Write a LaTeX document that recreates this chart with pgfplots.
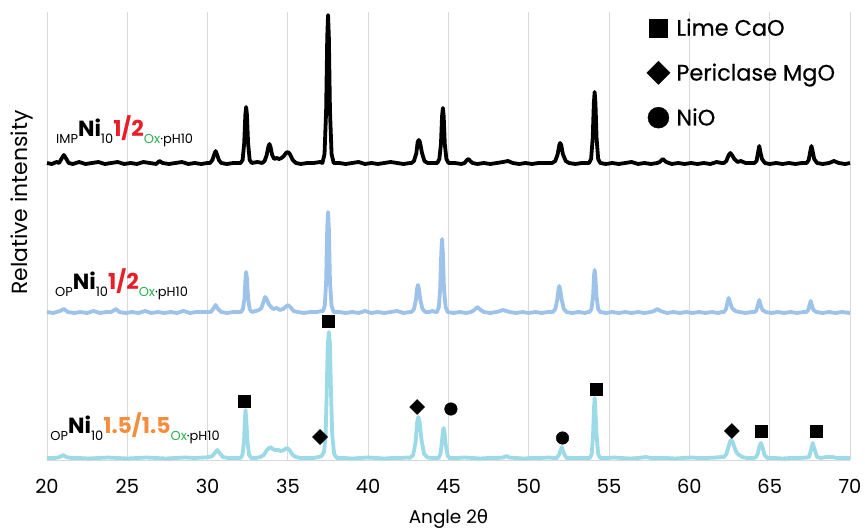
\documentclass[border=0pt]{standalone}
\usepackage{fontspec}
\setmainfont{Poppins}
\newfontfamily\greek{DejaVu Sans}
\newfontfamily\legfont[FakeBold=0.5]{Poppins}
\usepackage{pgfplots}
\pgfplotsset{compat=1.18}
\definecolor{midblue}{RGB}{157,195,234}
\definecolor{cyanb}{RGB}{155,218,230}
\definecolor{labred}{RGB}{232,30,40}
\definecolor{laborange}{RGB}{246,140,60}
\definecolor{labgreen}{RGB}{40,178,75}
\definecolor{gridc}{RGB}{217,217,217}
\newcommand{\slab}[1]{{\fontsize{13}{13}\selectfont #1}}
\newcommand{\blab}[2]{\raisebox{#1}{\fontsize{22}{22}\selectfont\bfseries #2}}
\begin{document}
\begin{tikzpicture}
\begin{axis}[
  scale only axis, width=803bp, height=448bp,
  xmin=20, xmax=70, ymin=0, ymax=448,
  axis line style={draw=none},
  major tick length=0pt,
  xtick={20,25,...,70}, ytick=\empty,
  xmajorgrids, grid style={gridc, line width=0.9bp},
  /pgf/number format/assume math mode=true,
  xticklabel style={font=\fontsize{19.5}{19.5}\selectfont, anchor=base, yshift=-33bp},
  xlabel={Angle 2{\greek θ}},
  xlabel style={font=\fontsize{18.5}{18.5}\selectfont, at={(axis description cs:0.5,0)}, anchor=base, yshift=-63bp},
  clip=false,
  legend style={draw=none, fill=none, at={(rel axis cs:0.745,0.99)}, anchor=north west, font=\legfont\fontsize{22.5}{22.5}\selectfont, row sep=22bp, inner sep=0pt},
  legend cell align=left,
  legend image code/.code={\path[draw=none, fill=none] (-13bp,-1bp) rectangle (16bp,1bp); \draw[#1] plot coordinates {(0bp,0bp)};},
]
\draw[gridc, line width=0.9bp] (rel axis cs:0,0) -- (rel axis cs:1,0);

% black trace (IMP)
\addplot[black, line width=3.8bp, line join=round, forget plot] coordinates {
(20.0,297)(20.3,296)(20.6,298)(20.75,297)(20.93,302)(21.05,305)(21.17,302)(21.35,297)
(21.6,296)(22.0,298)(22.4,296)(22.8,297)(23.2,298)(23.6,296)(24.0,297)(24.4,298)(24.8,296)
(25.2,297)(25.6,296)(26.0,298)(26.4,297)(26.8,296)(27.0,299)(27.2,297)(27.6,296)(28.0,297)
(28.4,298)(28.8,296)(29.2,297)(29.6,296)(30.0,297)
(30.15,297)(30.3,300)(30.4,305)(30.5,309)(30.6,305)(30.7,300)(30.85,297)
(31.2,296)(31.6,297)(32.0,297)
(32.05,297)(32.18,300)(32.28,317)(32.35,345)(32.4,353)(32.45,345)(32.52,317)(32.62,300)(32.75,297)
(33.1,298)(33.4,297)(33.55,299)(33.68,305)(33.78,313)(33.85,316)(33.92,313)(34.02,305)(34.15,301)
(34.3,302)(34.45,301)(34.6,302)
(34.75,304)(34.88,307)(35.0,308)(35.12,306)(35.3,300)(35.5,297)
(35.8,296)(36.2,297)(36.6,297)(37.0,298)
(37.15,297)(37.28,306)(37.38,349)(37.45,423)(37.5,445)(37.55,423)(37.62,349)(37.72,306)(37.85,297)
(38.2,297)(38.6,296)(39.0,297)(39.4,298)(39.8,296)(40.2,297)(40.6,296)(41.0,297)(41.4,298)
(41.8,297)(42.2,296)(42.6,297)
(42.7,297)(42.85,299)(43.0,307)(43.08,318)(43.15,320)(43.22,318)(43.35,307)(43.5,299)(43.7,297)
(44.0,297)(44.2,297)
(44.3,297)(44.43,301)(44.53,316)(44.6,344)(44.65,352)(44.7,344)(44.77,316)(44.87,301)(45.0,297)
(45.4,297)(45.8,296)(46.0,297)(46.15,300)(46.25,301)(46.35,299)(46.5,297)
(46.8,296)(47.2,297)(47.6,296)(48.0,297)(48.4,298)(48.7,299)(49.0,297)(49.4,296)(49.8,297)
(50.2,296)(50.6,297)(51.0,297)(51.3,297)
(51.45,297)(51.65,299)(51.8,306)(51.9,315)(51.95,317)(52.02,315)(52.12,306)(52.3,299)(52.5,297)
(52.9,296)(53.3,297)(53.6,297)
(53.75,297)(53.88,301)(53.98,322)(54.05,357)(54.1,368)(54.15,357)(54.22,322)(54.32,301)(54.45,297)
(54.8,296)(55.2,297)(55.6,296)(56.0,297)(56.4,298)(56.8,296)(57.2,297)(57.6,296)(58.0,297)
(58.15,298)(58.35,301)(58.55,298)
(58.9,296)(59.3,297)(59.7,296)(60.1,297)(60.5,296)(60.9,297)(61.3,296)(61.7,298)(62.0,297)
(62.15,297)(62.3,299)(62.45,305)(62.55,307)(62.65,305)(62.8,301)(63.0,298)(63.2,299)(63.5,297)
(63.8,297)
(64.05,297)(64.18,299)(64.28,308)(64.35,314)(64.42,308)(64.52,301)(64.7,297)
(65.0,296)(65.4,297)(65.8,296)(66.2,297)(66.6,296)(67.0,297)
(67.3,297)(67.43,300)(67.53,309)(67.6,314)(67.67,309)(67.77,301)(67.95,297)
(68.3,296)(68.7,297)(69.0,299)(69.3,297)(69.7,296)(70.0,297)
};

% middle trace (OP 1/2)
\addplot[midblue, line width=3.8bp, line join=round, forget plot] coordinates {
(20.0,148)(20.4,147)(20.8,149)(21.05,151)(21.3,148)(21.7,147)(22.1,148)(22.5,147)(22.9,149)
(23.3,147)(23.7,148)(24.0,148)(24.3,151)(24.5,148)(24.9,147)(25.3,148)(25.7,147)(26.1,149)
(26.5,147)(26.9,148)(27.3,147)(27.7,148)(28.1,147)(28.5,149)(28.9,147)(29.3,148)(29.7,148)(30.1,148)
(30.2,148)(30.35,151)(30.5,155)(30.65,151)(30.85,148)
(31.2,147)(31.6,148)(32.0,148)
(32.08,148)(32.2,151)(32.3,162)(32.36,182)(32.4,188)(32.45,182)(32.52,162)(32.62,151)(32.75,148)
(33.0,149)(33.2,150)(33.35,152)(33.48,158)(33.58,163)(33.68,161)(33.8,156)(33.95,153)(34.1,151)
(34.3,152)(34.5,150)(34.7,151)(34.85,153)(35.0,155)(35.15,153)(35.35,149)(35.6,148)
(36.0,147)(36.4,148)(36.8,148)(37.1,149)
(37.2,149)(37.3,155)(37.38,178)(37.45,232)(37.5,248)(37.55,232)(37.62,178)(37.72,154)(37.85,148)
(38.2,148)(38.6,147)(39.0,148)(39.4,147)(39.8,149)(40.2,147)(40.6,148)(41.0,147)(41.4,148)
(41.8,149)(42.2,147)(42.6,148)
(42.7,148)(42.85,151)(42.97,160)(43.05,172)(43.1,175)(43.15,172)(43.25,160)(43.38,151)(43.55,148)
(43.8,148)(44.0,149)(44.2,148)
(44.28,148)(44.4,153)(44.48,171)(44.55,207)(44.6,221)(44.65,207)(44.72,171)(44.82,153)(44.95,148)
(45.3,147)(45.7,148)(46.1,147)(46.4,148)(46.6,150)(46.8,153)(47.0,150)(47.2,148)
(47.6,147)(48.0,148)(48.4,150)(48.8,148)(49.2,147)(49.6,148)(50.0,147)(50.4,148)(50.8,147)
(51.2,148)(51.4,148)
(51.5,148)(51.65,151)(51.77,160)(51.85,171)(51.9,174)(51.95,171)(52.05,160)(52.18,151)(52.35,148)
(52.7,147)(53.1,148)(53.5,147)(53.7,148)
(53.78,148)(53.9,151)(54.0,163)(54.06,184)(54.1,190)(54.14,184)(54.22,163)(54.32,151)(54.45,148)
(54.8,147)(55.2,148)(55.6,147)(56.0,148)(56.4,147)(56.8,148)(57.2,147)(57.6,148)
(57.8,149)(58.0,151)(58.2,149)(58.6,147)(59.0,148)(59.4,147)(59.8,148)(60.2,147)(60.6,148)
(61.0,147)(61.4,148)(61.8,147)(62.0,148)
(62.15,148)(62.28,151)(62.38,158)(62.45,162)(62.52,158)(62.65,152)(62.85,149)(63.1,148)
(63.5,147)(63.9,148)(64.05,148)
(64.15,149)(64.27,155)(64.35,160)(64.43,155)(64.55,150)(64.75,148)
(65.1,147)(65.5,148)(65.9,147)(66.3,148)(66.7,147)(67.1,148)(67.3,148)
(67.4,150)(67.48,155)(67.55,159)(67.62,155)(67.72,150)(67.9,148)
(68.3,147)(68.7,148)(69.1,147)(69.5,148)(70.0,147)
};

% bottom trace (OP 1.5/1.5)
\addplot[cyanb, line width=3.8bp, line join=round, forget plot] coordinates {
(20.0,2)(20.5,2)(20.8,3)(21.0,5)(21.2,3)(21.5,2)(22.0,2)(22.6,1.5)(23.2,2)(23.8,2.5)(24.4,2)
(25.0,1.5)(25.6,2)(26.2,2.5)(26.8,2)(27.4,1.5)(28.0,2)(28.6,2.5)(29.2,2)(29.8,2.5)(30.1,3)
(30.3,4)(30.45,7)(30.6,10)(30.75,7)(30.95,3)(31.3,2)(31.7,2)(32.0,2)
(32.05,2)(32.17,5)(32.27,19)(32.32,40)(32.36,50)(32.41,40)(32.48,19)(32.58,5)(32.72,2)
(33.0,2)(33.3,3)(33.5,5)(33.7,10)(33.9,13)(34.05,11)(34.2,10)(34.4,10)(34.55,9)(34.75,10)
(34.95,12)(35.1,10)(35.3,5)(35.5,3)(35.8,2)(36.2,2)(36.6,2)(36.9,3)
(37.1,4)(37.25,8)(37.35,25)(37.42,70)(37.48,115)(37.55,128)(37.62,115)(37.68,70)(37.76,25)(37.88,6)(38.05,2)
(38.5,2)(39.0,1.5)(39.5,2)(40.0,2.5)(40.5,2)(41.0,1.5)(41.5,2)(42.0,2)(42.5,2.5)
(42.6,2)(42.8,5)(42.95,18)(43.05,38)(43.12,43)(43.2,38)(43.32,20)(43.48,6)(43.7,2.5)
(44.0,2)(44.3,2)
(44.38,2)(44.5,6)(44.6,20)(44.66,30)(44.7,32)(44.75,28)(44.83,15)(44.95,4)(45.1,2)
(45.5,2)(46.0,2.5)(46.5,2)(47.0,1.5)(47.5,2)(48.0,2)(48.4,2.5)(48.6,4)(48.8,2.5)(49.2,2)
(49.7,1.5)(50.2,2)(50.7,2)(51.2,2.5)(51.6,2)
(51.75,2)(51.9,6)(52.05,13)(52.2,6)(52.35,2)
(52.7,2)(53.1,2)(53.5,2)(53.75,2)
(53.8,2)(53.92,6)(54.0,25)(54.06,52)(54.1,62)(54.14,52)(54.22,25)(54.32,6)(54.45,2)
(54.8,2)(55.3,2.5)(55.8,2)(56.3,1.5)(56.8,2)(57.3,3)(57.6,2)(58.1,2)(58.6,2)(59.1,1.5)
(59.6,2)(60.1,2.5)(60.6,2)(61.1,2)(61.6,2.5)(62.0,3)
(62.15,3)(62.3,6)(62.45,14)(62.55,19)(62.62,20)(62.7,18)(62.82,12)(62.95,7)(63.1,5)(63.3,3)(63.6,2)
(64.0,2)(64.15,3)(64.25,6)(64.35,13)(64.45,17)(64.55,13)(64.68,5)(64.85,2)
(65.3,2)(65.8,1.5)(66.3,2)(66.8,2)(67.3,2.5)
(67.45,3)(67.57,10)(67.68,17)(67.8,10)(67.95,3)(68.2,2)(68.5,3)(68.9,3)(69.2,2)(69.6,2)(70.0,2)
};

% phase markers
\addplot[only marks, mark=square*, mark size=6bp, black, forget plot] coordinates {
(32.3,59)(37.5,139)(54.2,71)(64.5,29)(67.9,29)};
\addplot[only marks, mark=square*, mark size=5.3bp, mark options={rotate=45}, black, forget plot] coordinates {
(37.0,23)(43.05,53)(62.65,29)};
\addplot[only marks, mark=*, mark size=6.3bp, black, forget plot] coordinates {
(45.15,51)(52.1,22)};

\addlegendimage{only marks, mark=square*, mark size=9bp, black}
\addlegendentry{Lime CaO}
\addlegendimage{only marks, mark=square*, mark size=8.2bp, mark options={rotate=45}, black}
\addlegendentry{Periclase MgO}
\addlegendimage{only marks, mark=*, mark size=10.5bp, black}
\addlegendentry{NiO}

% trace labels
\node[anchor=base west, inner sep=0pt] at (axis cs:20.56,316.5)
  {\slab{IMP}\blab{7bp}{Ni}\slab{10}\blab{7bp}{\color{labred}1/2}\slab{\color{labgreen}Ox}\slab{\textperiodcentered pH10}};
\node[anchor=base west, inner sep=0pt] at (axis cs:20.5,163)
  {\slab{OP}\blab{7bp}{Ni}\slab{10}\blab{7bp}{\color{labred}1/2}\slab{\color{labgreen}Ox}\slab{\textperiodcentered pH10}};
\node[anchor=base west, inner sep=0pt] at (axis cs:20.2,19.3)
  {\slab{OP}\blab{7bp}{Ni}\slab{10}\blab{7bp}{\color{laborange}1.5/1.5}\slab{\color{labgreen}Ox}\slab{\textperiodcentered pH10}};

% y label
\node[rotate=90, anchor=base west, inner sep=0pt, font=\fontsize{22}{22}\selectfont] at (axis cs:18.755,165) {Relative intensity};
\end{axis}
\pgfresetboundingbox
\path ([xshift=-47bp,yshift=-68bp]current axis.south west) rectangle ([xshift=15bp,yshift=12bp]current axis.north east);
\end{tikzpicture}
\end{document}
